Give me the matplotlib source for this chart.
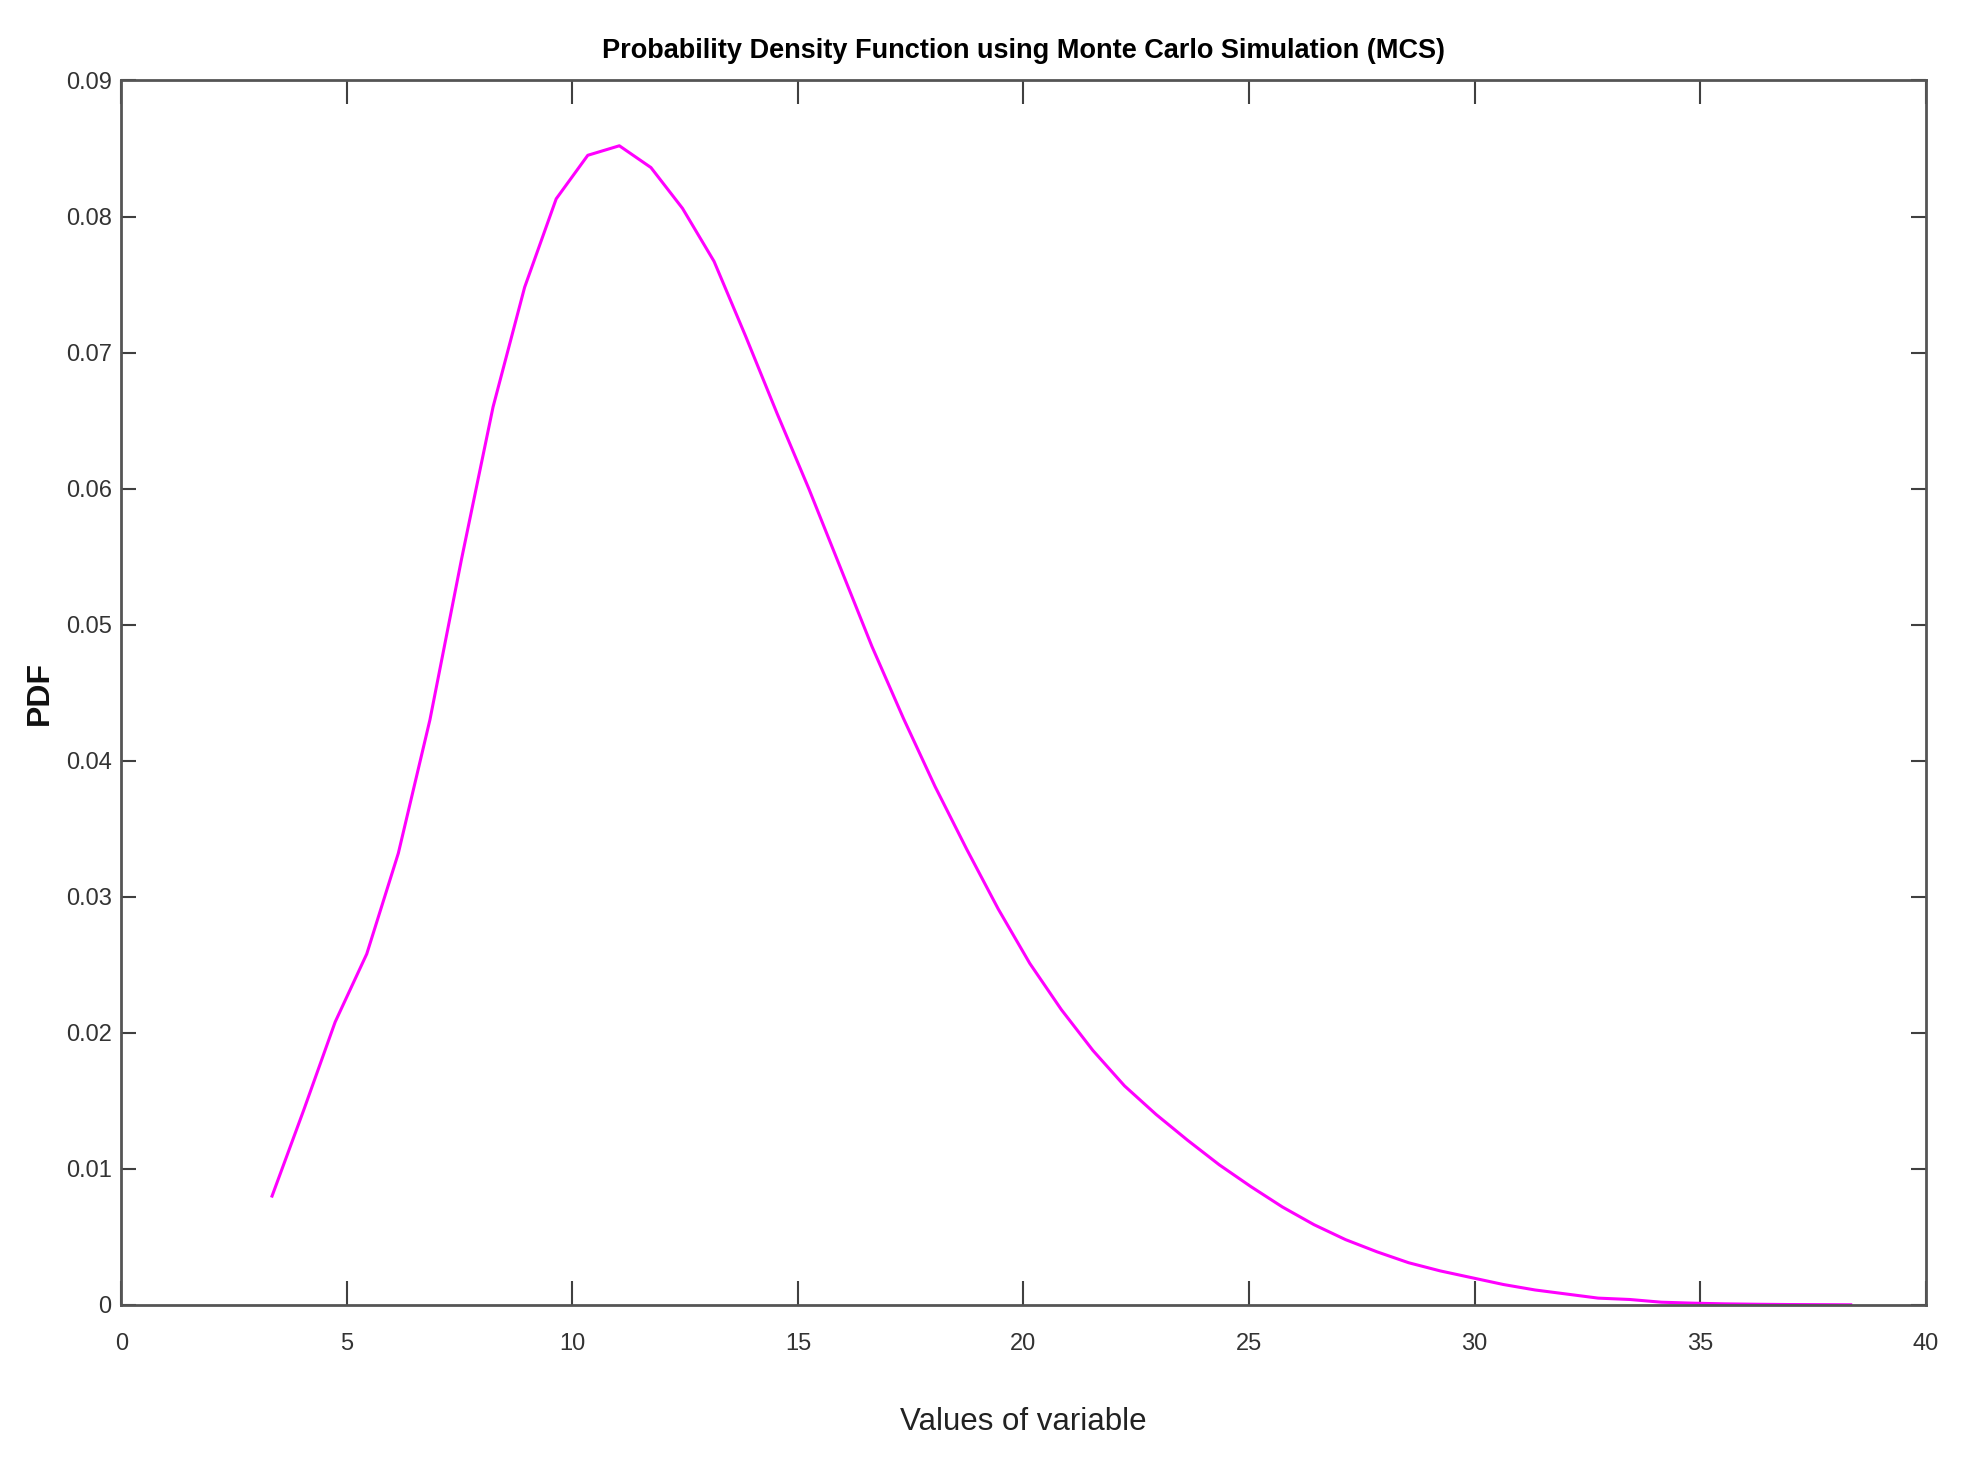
import matplotlib
matplotlib.use("Agg")
import matplotlib.pyplot as plt
from matplotlib import font_manager

# values
x_vals = [3.34, 4.04, 4.74, 5.44, 6.14, 6.84, 7.54, 8.24, 8.94, 9.64,
          10.34, 11.04, 11.74, 12.44, 13.14, 13.84, 14.54, 15.24, 15.94, 16.64,
          17.34, 18.04, 18.74, 19.44, 20.14, 20.84, 21.54, 22.24, 22.94, 23.64,
          24.34, 25.04, 25.74, 26.44, 27.14, 27.84, 28.54, 29.24, 29.94, 30.64,
          31.34, 32.04, 32.74, 33.44, 34.14, 34.84, 35.54, 36.24, 36.94, 37.64,
          38.34]
pdf_vals = [0.0080, 0.0143, 0.0208, 0.0258, 0.0332, 0.0430, 0.0548, 0.0660, 0.0748, 0.0813,
            0.0845, 0.0852, 0.0836, 0.0806, 0.0767, 0.0712, 0.0655, 0.0600, 0.0542, 0.0484,
            0.0431, 0.0381, 0.0335, 0.0291, 0.0251, 0.0217, 0.0187, 0.0161, 0.0140, 0.0121,
            0.0103, 0.0087, 0.0072, 0.0059, 0.0048, 0.0039, 0.0031, 0.0025, 0.0020, 0.0015,
            0.0011, 0.0008, 0.0005, 0.0004, 0.0002, 0.00013, 0.00008, 0.00005, 0.00003, 0.00002,
            0.00001]

x_ticks = [0, 5, 10, 15, 20, 25, 30, 35, 40]
y_ticks = [0, 0.01, 0.02, 0.03, 0.04, 0.05, 0.06, 0.07, 0.08, 0.09]
y_ticklabels = ['0', '0.01', '0.02', '0.03', '0.04', '0.05', '0.06', '0.07', '0.08', '0.09']

names = set(f.name for f in font_manager.fontManager.ttflist)
narrow = 'Liberation Sans Narrow' if 'Liberation Sans Narrow' in names else 'Liberation Sans'

fig = plt.figure(figsize=(19.77, 14.71), dpi=100)
ax = fig.add_axes([0.0614, 0.1129, 0.9126, 0.8324])

ax.plot(x_vals, pdf_vals, color='#ff00ff', lw=2.2)

ax.set_xlim(0, 40)
ax.set_ylim(0, 0.09)
ax.set_xticks(x_ticks)
ax.set_xticklabels([str(t) for t in x_ticks])
ax.set_yticks(y_ticks)
ax.set_yticklabels(y_ticklabels)

for s in ax.spines.values():
    s.set_color('#555555')
    s.set_linewidth(2.0)

ax.tick_params(axis='x', direction='in', length=17, width=1.5, color='#404040',
               top=True, pad=20, labelsize=17, labelcolor='#333333')
ax.tick_params(axis='y', direction='in', length=11, width=1.5, color='#404040',
               right=True, pad=7, labelsize=17, labelcolor='#333333')
for lab in ax.get_xticklabels() + ax.get_yticklabels():
    lab.set_family(narrow)

ax.set_title('Probability Density Function using Monte Carlo Simulation (MCS)',
             family=narrow, fontsize=19.5, fontweight='bold', color='black', pad=16)
ax.set_xlabel('Values of variable', family=narrow, fontsize=22.5, color='#222222', labelpad=38)
ax.set_ylabel('PDF', family='Liberation Sans', fontsize=23, fontweight='bold',
              color='#111111')
ax.yaxis.set_label_coords(-0.037, 0.5)

fig.savefig('out.png', dpi=100)
